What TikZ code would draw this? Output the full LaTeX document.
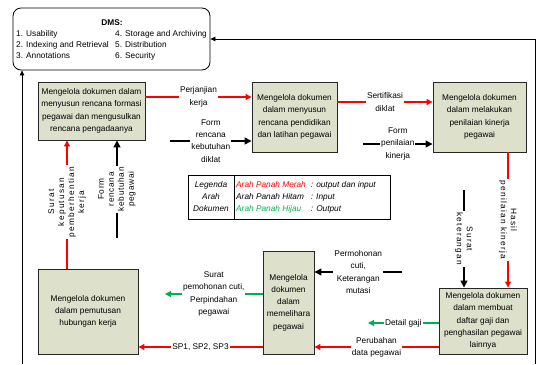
\documentclass[tikz,border=0pt]{standalone}
\usepackage{fontspec}
\setmainfont{Liberation Sans}
\usetikzlibrary{arrows.meta,calc}
\definecolor{boxfill}{RGB}{221,224,203}
\definecolor{rd}{RGB}{255,0,0}
\definecolor{gr}{RGB}{0,176,80}
\begin{document}
\begin{tikzpicture}[x=1pt,y=-1pt,
  font=\fontsize{8.3}{12.3}\selectfont,
  proc/.style={draw=black!85, line width=0.9pt, fill=boxfill, align=center, inner sep=1pt},
  redar/.style={draw=rd, line width=1.2pt, -{Triangle[length=6pt,width=6pt]}},
  blkar/.style={draw=black, line width=1.5pt, -{Triangle[length=7pt,width=7pt]}},
  grnar/.style={draw=gr, line width=1.2pt, -{Triangle[length=6pt,width=6pt]}},
  lbl/.style={fill=white, align=center, inner sep=1pt},
  vlbl/.style={fill=white, align=center, inner sep=1.5pt, font=\fontsize{8.3}{10}\selectfont\addfontfeature{LetterSpace=15}},
  vlbls/.style={fill=white, align=center, inner sep=1.5pt, font=\fontsize{8.3}{10}\selectfont\addfontfeature{LetterSpace=8}},
  thinar/.style={draw=black, line width=0.8pt, -{Triangle[length=5pt,width=4.5pt]}},
  dmstxt/.style={anchor=base west, inner sep=0pt}]
\useasboundingbox (0,0) rectangle (537,364);

% DMS box
\node[draw, rounded corners=8pt, line width=0.8pt, minimum width=197pt, minimum height=62pt, inner sep=0pt] (DMS) at (111.5,39) {};
\node[anchor=base, inner sep=0pt] (DMSh) at (112,25) {\textbf{DMS:}};
\node[dmstxt] (d1) at (16,36) {1. Usability};
\node[dmstxt] (d2) at (16,47) {2. Indexing and Retrieval};
\node[dmstxt] (d3) at (16,58) {3. Annotations};
\node[dmstxt] (d4) at (115,36) {4. Storage and Archiving};
\node[dmstxt] (d5) at (115,47) {5. Distribution};
\node[dmstxt] (d6) at (115,58) {6. Security};

% process boxes
\node[proc, minimum width=107pt, minimum height=58pt] (A) at (91.5,111)
  {Mengelola dokumen dalam\\menyusun rencana formasi\\pegawai dan mengusulkan\\rencana pengadaanya};
\node[proc, minimum width=85pt, minimum height=70pt] (B) at (294.5,117)
  {Mengelola dokumen\\dalam menyusun\\rencana pendidikan\\dan latihan pegawai};
\node[proc, minimum width=93pt, minimum height=70pt] (C) at (479.5,117)
  {Mengelola dokumen\\dalam melakukan\\penilaian kinerja\\pegawai};
\node[proc, minimum width=88pt, minimum height=66pt] (D) at (483,321)
  {Mengelola dokumen\\dalam membuat\\daftar gaji dan\\penghasilan pegawai\\lainnya};
\node[proc, minimum width=51pt, minimum height=103pt] (E) at (288.5,302.5)
  {Mengelola\\dokumen\\dalam\\memelihara\\pegawai};
\node[proc, minimum width=100pt, minimum height=85pt] (F) at (88,311.5)
  {Mengelola dokumen\\dalam pemutusan\\hubungan kerja};

% legend
\node[draw, line width=0.8pt, minimum width=202pt, minimum height=44pt, inner sep=0pt] (L) at (289,197) {};
\coordinate (ld) at (234,0);
\draw[line width=0.8pt] (ld |- L.north) -- (ld |- L.south);
\node[align=center, inner sep=0pt, font=\fontsize{8.3}{12}\selectfont\itshape] (L1) at (211,197) {Legenda\\Arah\\Dokumen};
\node[anchor=west, inner sep=0pt, font=\fontsize{8.3}{12}\selectfont\itshape] (L2) at (236,197)
  {\begin{tabular}{@{}l@{\hspace{5pt}}l@{}}
   \textcolor{rd}{Arah Panah Merah} & : output dan input\\
   Arah Panah Hitam & : Input\\
   \textcolor{gr}{Arah Panah Hijau} & : Output
   \end{tabular}};

% connectors
\draw[redar] ([yshift=14pt]A.east) -- node[lbl]{Perjanjian\\kerja} ([yshift=20pt]B.west);
\coordinate (s2) at (170,141);
\draw[blkar] (s2) -- node[lbl]{Form\\rencana\\kebutuhan\\diklat} (s2 -| B.west);
\draw[redar] ([yshift=15pt]B.east) -- node[lbl]{Sertifikasi\\diklat} ([yshift=15pt]C.west);
\coordinate (s4) at (363,144);
\draw[blkar] (s4) -- node[lbl]{Form\\penilaian\\kinerja} (s4 -| C.west);
\coordinate (x5) at (508,0);
\draw[redar] (x5 |- C.south) -- node[vlbl, rotate=-90]{Hasil\\penilaian kinerja} (x5 |- D.north);
\coordinate (s6) at (464,190);
\draw[blkar] (s6) -- node[vlbl, rotate=-90]{Surat\\keterangan} (s6 |- D.north);
\coordinate (s7) at (402,272);
\draw[blkar] (s7) -- node[lbl]{Permohonan\\cuti,\\Keterangan\\mutasi} (s7 -| E.east);
\coordinate (t8) at (368,323);
\draw[grnar] (t8 -| D.west) -- node[lbl]{Detail gaji} (t8);
\coordinate (y9) at (0,347);
\draw[redar] (y9 -| D.west) -- node[lbl]{Perubahan\\data pegawai} (y9 -| E.east);
\coordinate (t10) at (165,294);
\draw[grnar] (t10 -| E.west) -- node[lbl]{Surat\\pemohonan cuti,\\Perpindahan\\pegawai} (t10);
\draw[redar] (y9 -| E.west) -- node[lbl]{SP1, SP2, SP3} (y9 -| F.east);
\coordinate (x12) at (67,0);
\draw[redar] (x12 |- F.north) -- node[vlbl, rotate=90, pos=0.52]{Surat\\keputusan\\pemberhentian\\kerja} (x12 |- A.south);
\coordinate (s13) at (117,238);
\draw[blkar] (s13) -- node[vlbls, rotate=90]{Form\\rencana\\kebutuhan\\pegawai} (s13 |- A.south);
\coordinate (s14) at (22,364);
\draw[thinar] (s14) -- (s14 |- DMS.south);
\coordinate (s15) at (535.5,364);
\draw[thinar] (s15) |- (DMS.east);
\end{tikzpicture}
\end{document}
